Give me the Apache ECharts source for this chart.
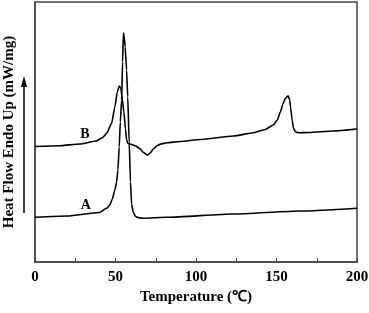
<!DOCTYPE html>
<html><head><meta charset="utf-8">
<script src="https://cdn.jsdelivr.net/npm/echarts@6/dist/echarts.min.js"></script>
<style>html,body{margin:0;padding:0;background:#fff}#c{width:369px;height:313px}</style>
</head><body><div id="c"></div>
<script>
// Temperature (°C) vs heat flow (arbitrary offset units)
const curveA = [[0,44.7],[20,46],[40,49.5],[44.5,53.7],[46.5,57],[48,63],[49.6,72],[50.7,80],[51.5,92],[52.3,115],[53,140],[53.8,162],[54.4,200],[54.9,229],[55.4,226],[56,215],[56.9,192],[57.6,165],[58.5,120],[59.3,80],[60,58],[61,50],[62.5,45.5],[64,44.5],[67,43.8],[82,44.7],[123,48],[165,51],[200,53.8]];
const curveB = [[0,115.5],[15,116.3],[28,118],[38,121],[42,124.5],[44.5,128.7],[47.6,138.7],[49.6,155],[51.1,170],[52.3,176],[53.3,174],[54.3,162],[55.2,150],[56.2,133],[56.9,122],[57.8,118.5],[60,117.5],[62.5,116],[65,113.5],[67.3,109.5],[69.8,107],[71.5,109],[73.5,113],[76,116.5],[78,118],[82,119.3],[90,120.5],[102.6,122.5],[123.3,126],[135.7,129.3],[143,132.5],[148,137],[150.5,142],[152.4,150],[154,158],[155.5,163.7],[157.2,166.3],[158.2,162],[158.8,154],[159.7,142],[160.5,134],[161.7,130.3],[163.8,129.3],[170,129.5],[185,131],[200,133]];
const curveNames = ['A','B'];
const xTicks = [0,50,100,150,200];

const font = '"Liberation Serif","Times New Roman",serif';
const chart = echarts.init(document.getElementById('c'));
function lineSeries(name, data, labelCoord){
  return {
    name, type:'line', data, showSymbol:false, smooth:0.2, smoothMonotone:'x',
    lineStyle:{color:'#000', width:1.6}, itemStyle:{color:'#000'},
    animation:false,
    markPoint:{symbol:'circle', symbolSize:0, data:[{coord:labelCoord, value:name}],
      label:{show:true, formatter:name, color:'#000', fontFamily:font, fontWeight:'bold', fontSize:14, position:'inside'}}
  };
}
chart.setOption({
  animation:false,
  grid:{left:35, right:12, top:2, bottom:51, containLabel:false, outerBoundsMode:'none', show:true, borderColor:'#444', borderWidth:1.5},
  xAxis:{type:'value', min:0, max:200, interval:50,
    axisLine:{lineStyle:{color:'#444', width:1.5}},
    axisTick:{inside:true, length:4, lineStyle:{color:'#444'}},
    minorTick:{show:true, splitNumber:2, length:4, lineStyle:{color:'#444'}},
    splitLine:{show:false},
    axisLabel:{color:'#000', fontFamily:font, fontWeight:'bold', fontSize:15, margin:8,
      formatter:v=>xTicks.includes(v)?String(v):''},
    name:'Temperature (℃)', nameLocation:'middle', nameGap:24,
    nameTextStyle:{color:'#000', fontFamily:font, fontWeight:'bold', fontSize:15}
  },
  yAxis:{type:'value', min:0, max:260,
    axisLine:{show:true, lineStyle:{color:'#444', width:1.5}},
    axisTick:{show:false}, axisLabel:{show:false}, splitLine:{show:false},
    name:'Heat Flow Endo Up (mW/mg)', nameLocation:'middle', nameGap:18,
    nameTextStyle:{color:'#000', fontFamily:font, fontWeight:'bold', fontSize:15}
  },
  graphic:[
    {type:'line', shape:{x1:24, y1:213, x2:24, y2:84}, style:{stroke:'#000', lineWidth:1.5}},
    {type:'polygon', shape:{points:[[24,76],[21,87],[27,87]]}, style:{fill:'#000'}}
  ],
  series:[
    lineSeries(curveNames[0], curveA, [31.5,57]),
    lineSeries(curveNames[1], curveB, [31,128])
  ]
});
</script></body></html>
